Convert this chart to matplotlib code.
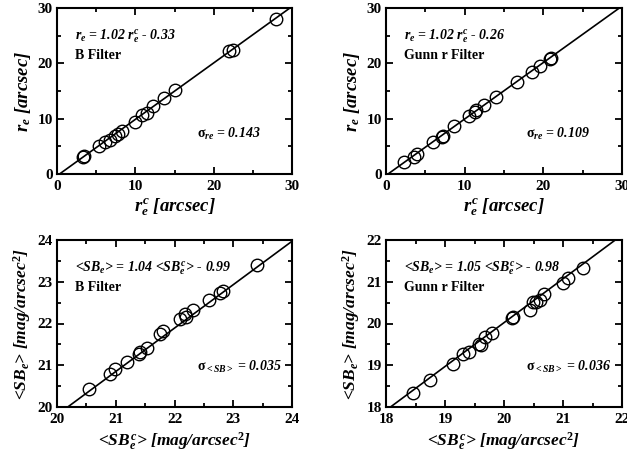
import matplotlib
matplotlib.use("Agg")
import matplotlib.pyplot as plt
import numpy as np
from matplotlib.ticker import MultipleLocator

plt.rcParams['font.family'] = ['Liberation Serif', 'DejaVu Serif']
plt.rcParams['font.weight'] = 'bold'
plt.rcParams['mathtext.fontset'] = 'custom'
plt.rcParams['mathtext.rm'] = 'Liberation Serif:bold'
plt.rcParams['mathtext.it'] = 'Liberation Serif:bold:italic'
plt.rcParams['mathtext.bf'] = 'Liberation Serif:bold'

# Panel 1: B filter, effective radius
rB_model = [3.3, 3.4, 5.4, 6.1, 6.8, 7.4, 7.85, 8.3, 9.9, 10.8, 11.45, 12.3, 13.7, 15.0, 22.0, 22.5, 28.0]
rB_obs   = [3.0, 3.2, 5.1, 5.7, 6.2, 6.8, 7.2, 7.7, 9.35, 10.7, 11.1, 12.2, 13.7, 15.1, 22.3, 22.5, 28.1]
# Panel 2: Gunn r filter, effective radius
rR_model = [2.3, 3.5, 3.9, 6.0, 7.1, 7.3, 8.6, 10.5, 11.3, 11.5, 12.4, 14.0, 16.7, 18.5, 19.6, 20.8, 21.0]
rR_obs   = [2.1, 3.1, 3.6, 5.7, 6.6, 6.8, 8.6, 10.4, 11.2, 11.5, 12.5, 14.0, 16.6, 18.5, 19.55, 20.8, 20.9]
# Panel 3: B filter, mean surface brightness
sbB_model = [20.54, 20.9, 20.99, 21.19, 21.39, 21.41, 21.53, 21.75, 21.81, 22.09, 22.18, 22.2, 22.32, 22.59, 22.77, 22.83, 23.41]
sbB_obs   = [20.44, 20.8, 20.92, 21.08, 21.28, 21.32, 21.42, 21.74, 21.82, 22.1, 22.22, 22.16, 22.32, 22.56, 22.72, 22.78, 23.4]
# Panel 4: Gunn r filter, mean surface brightness
sbR_model = [18.45, 18.75, 19.13, 19.3, 19.41, 19.57, 19.61, 19.68, 19.79, 20.13, 20.16, 20.44, 20.49, 20.55, 20.61, 20.67, 21.0, 21.08, 21.34]
sbR_obs   = [18.34, 18.64, 19.02, 19.26, 19.32, 19.52, 19.48, 19.68, 19.78, 20.14, 20.16, 20.32, 20.52, 20.52, 20.56, 20.7, 20.98, 21.1, 21.32]

fits = [(1.02, -0.33), (1.02, -0.26), (1.04, -0.99), (1.05, -0.98)]
limits = [(0, 30), (0, 30), (20, 24), (18, 22)]
eq_texts = [r"$r_e$ = 1.02 $r^c_e$ - 0.33",
            r"$r_e$ = 1.02 $r^c_e$ - 0.26",
            r"<$SB_e$> = 1.04 <$SB^c_e$> - 0.99",
            r"<$SB_e$> = 1.05 <$SB^c_e$> - 0.98"]
filters = ["B Filter", "Gunn r Filter", "B Filter", "Gunn r Filter"]
sig_texts = [r"$\mathrm{\sigma}_{re}$ = 0.143", r"$\mathrm{\sigma}_{re}$ = 0.109",
             r"$\mathrm{\sigma}_{<SB>}$ = 0.035", r"$\mathrm{\sigma}_{<SB>}$ = 0.036"]
xlabels = [r"$r^c_e$ [arcsec]", r"$r^c_e$ [arcsec]",
           r"<$SB^c_e$> [mag/arcsec$^2$]", r"<$SB^c_e$> [mag/arcsec$^2$]"]
ylabels = [r"$r_e$ [arcsec]", r"$r_e$ [arcsec]",
           r"<$SB_e$> [mag/arcsec$^2$]", r"<$SB_e$> [mag/arcsec$^2$]"]
label_sizes = [13.5, 13.5, 12.5, 12.5]
xs = [rB_model, rR_model, sbB_model, sbR_model]
ys = [rB_obs, rR_obs, sbB_obs, sbR_obs]
majors = [10, 10, 1, 1]
minors = [5, 5, 0.5, 0.5]

W, H = 627, 457
fig = plt.figure(figsize=(W / 100, H / 100), dpi=100)
boxes = [(57, 8, 292, 174), (386, 8, 622, 174), (57, 240, 292, 407), (386, 240, 622, 407)]

for i in range(4):
    l, t, r, b = boxes[i]
    ax = fig.add_axes([l / W, 1 - b / H, (r - l) / W, (b - t) / H])
    lo, hi = limits[i]
    ax.set_xlim(lo, hi)
    ax.set_ylim(lo, hi)
    a, c = fits[i]
    xx = np.linspace(lo, hi, 100)
    ax.plot(xx, a * xx + c, color='black', lw=1.2)
    ax.plot(xs[i], ys[i], 'o', mfc='none', mec='black', ms=9, mew=1.0)
    ax.xaxis.set_major_locator(MultipleLocator(majors[i]))
    ax.xaxis.set_minor_locator(MultipleLocator(minors[i]))
    ax.yaxis.set_major_locator(MultipleLocator(majors[i]))
    ax.yaxis.set_minor_locator(MultipleLocator(minors[i]))
    ax.tick_params(which='both', direction='in', top=True, right=True, width=1.3)
    ax.tick_params(which='major', length=5, labelsize=11)
    ax.tick_params(axis='x', which='major', pad=4)
    ax.tick_params(axis='y', which='major', pad=3)
    ax.tick_params(which='minor', length=3)
    for s in ax.spines.values():
        s.set_linewidth(1.5)
    for lab in ax.get_xticklabels() + ax.get_yticklabels():
        lab.set_fontweight('bold')
    ax.set_xlabel(xlabels[i], fontsize=label_sizes[i], fontstyle='italic', fontweight='bold', labelpad=3)
    ax.set_ylabel(ylabels[i], fontsize=label_sizes[i], fontstyle='italic', fontweight='bold', labelpad=3)
    ax.text(0.078, 0.83, eq_texts[i], transform=ax.transAxes, fontsize=10,
            fontstyle='italic', fontweight='bold', va='center')
    ax.text(0.078, 0.715, filters[i], transform=ax.transAxes, fontsize=10,
            fontweight='bold', va='center')
    ax.text(0.594, 0.24, sig_texts[i], transform=ax.transAxes, fontsize=10,
            fontstyle='italic', fontweight='bold', va='center')

fig.savefig("out.png", dpi=100)
